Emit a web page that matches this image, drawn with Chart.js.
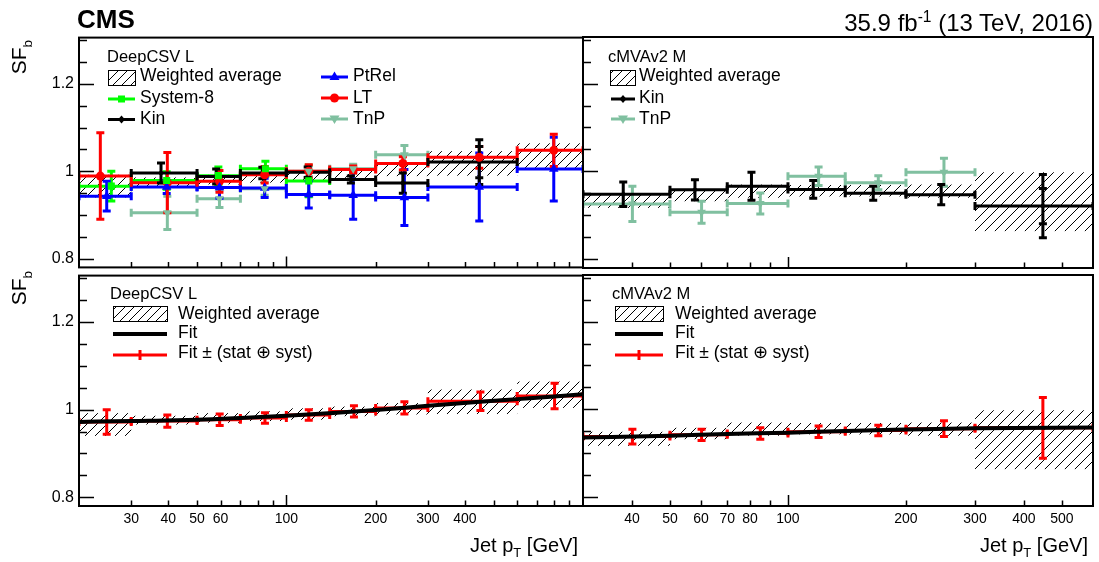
<!DOCTYPE html>
<html>
<head>
<meta charset="utf-8">
<script src="https://cdn.jsdelivr.net/npm/chart.js@4.4.1/dist/chart.umd.min.js"></script>
<style>
body { margin: 0; background: #fff; font-family: "Liberation Sans", Arial, sans-serif; }
#page { position: relative; width: 1099px; height: 562px; overflow: hidden; }
canvas { position: absolute; }
.t { position: absolute; white-space: nowrap; color: #000; line-height: 20px; font-size: 17.5px; }
.h { font-size: 16.5px; }
.rot { position: absolute; font-size: 21px; white-space: nowrap; transform: translate(-50%, -50%) rotate(-90deg); }
sub, sup { font-size: 65%; }
</style>
</head>
<body>
<div id="page">
  <canvas id="cTL" width="565" height="259" style="left:20px;top:23px"></canvas>
  <canvas id="cTR" width="514" height="235" style="left:581px;top:35px"></canvas>
  <canvas id="cBL" width="565" height="301" style="left:20px;top:261px"></canvas>
  <canvas id="cBR" width="514" height="289" style="left:581px;top:273px"></canvas>

  <svg width="1099" height="562" style="position:absolute;left:0;top:0;pointer-events:none">
    <defs>
      <pattern id="hp" width="9" height="9" patternUnits="userSpaceOnUse">
        <path d="M0,9 L9,0 M-1,1 L1,-1 M8,10 L10,8" stroke="#000" stroke-width="1"/>
      </pattern>
    </defs>
    <!-- top left legend -->
    <rect x="108.5" y="70.5" width="27" height="15" fill="url(#hp)" stroke="#000" stroke-width="1"/>
    <line x1="108" y1="99" x2="135" y2="99" stroke="#00ff00" stroke-width="3"/>
    <rect x="118" y="95.5" width="7" height="7" fill="#00ff00"/>
    <line x1="108" y1="119.5" x2="135" y2="119.5" stroke="#000" stroke-width="3"/>
    <path d="M121.5,115.5 L125,119.5 L121.5,123.5 L118,119.5 Z" fill="#000"/>
    <line x1="321" y1="77" x2="348" y2="77" stroke="#0000ff" stroke-width="3"/>
    <path d="M334.5,71.5 L339.5,80 L329.5,80 Z" fill="#0000ff"/>
    <line x1="321" y1="98" x2="348" y2="98" stroke="#ff0000" stroke-width="3"/>
    <circle cx="334.5" cy="98" r="4.5" fill="#ff0000"/>
    <line x1="321" y1="119" x2="348" y2="119" stroke="#80c0a0" stroke-width="3"/>
    <path d="M334.5,124 L339.5,115.5 L329.5,115.5 Z" fill="#80c0a0"/>
    <!-- top right legend -->
    <rect x="610.5" y="70.5" width="25" height="15" fill="url(#hp)" stroke="#000" stroke-width="1"/>
    <line x1="611" y1="99" x2="635" y2="99" stroke="#000" stroke-width="3"/>
    <path d="M623,95 L626.5,99 L623,103 L619.5,99 Z" fill="#000"/>
    <line x1="611" y1="119" x2="635" y2="119" stroke="#80c0a0" stroke-width="3"/>
    <path d="M623,124 L628,115.5 L618,115.5 Z" fill="#80c0a0"/>
    <!-- bottom left legend -->
    <rect x="113.5" y="306.5" width="54" height="15" fill="url(#hp)" stroke="#000" stroke-width="1"/>
    <line x1="113" y1="334" x2="167" y2="334" stroke="#000" stroke-width="4"/>
    <line x1="113" y1="355" x2="167" y2="355" stroke="#ff0000" stroke-width="3"/>
    <line x1="140" y1="350" x2="140" y2="360" stroke="#ff0000" stroke-width="3"/>
    <!-- bottom right legend -->
    <rect x="615.5" y="306.5" width="48" height="15" fill="url(#hp)" stroke="#000" stroke-width="1"/>
    <line x1="615" y1="334" x2="663" y2="334" stroke="#000" stroke-width="4"/>
    <line x1="615" y1="355" x2="663" y2="355" stroke="#ff0000" stroke-width="3"/>
    <line x1="639" y1="350" x2="639" y2="360" stroke="#ff0000" stroke-width="3"/>
  </svg>

  <div class="t" style="left:77px;top:6px;font-size:26px;line-height:1;font-weight:bold;">CMS</div>
  <div class="t" style="right:6px;top:9px;font-size:24px;line-height:1;">35.9 fb<sup>-1</sup> (13 TeV, 2016)</div>

  <div class="rot" style="left:21px;top:57px;">SF<sub>b</sub></div>
  <div class="rot" style="left:21px;top:288px;">SF<sub>b</sub></div>

  <div class="t" style="right:521px;top:535px;font-size:20px;">Jet p<sub>T</sub> [GeV]</div>
  <div class="t" style="right:11px;top:535px;font-size:20px;">Jet p<sub>T</sub> [GeV]</div>

  <div class="t h" style="left:107px;top:46px;">DeepCSV L</div>
  <div class="t" style="left:140px;top:65px;">Weighted average</div>
  <div class="t" style="left:140px;top:87px;">System-8</div>
  <div class="t" style="left:140px;top:108px;">Kin</div>
  <div class="t" style="left:353px;top:65px;">PtRel</div>
  <div class="t" style="left:353px;top:87px;">LT</div>
  <div class="t" style="left:353px;top:108px;">TnP</div>

  <div class="t h" style="left:608px;top:46px;">cMVAv2 M</div>
  <div class="t" style="left:639px;top:65px;">Weighted average</div>
  <div class="t" style="left:639px;top:87px;">Kin</div>
  <div class="t" style="left:639px;top:108px;">TnP</div>

  <div class="t h" style="left:110px;top:283px;">DeepCSV L</div>
  <div class="t" style="left:178px;top:303px;">Weighted average</div>
  <div class="t" style="left:178px;top:322px;">Fit</div>
  <div class="t" style="left:178px;top:342px;">Fit ± (stat ⊕ syst)</div>

  <div class="t h" style="left:612px;top:283px;">cMVAv2 M</div>
  <div class="t" style="left:675px;top:303px;">Weighted average</div>
  <div class="t" style="left:675px;top:322px;">Fit</div>
  <div class="t" style="left:675px;top:342px;">Fit ± (stat ⊕ syst)</div>
</div>

<script>
// ==== BINNING ====
const edgesDeep = [20, 30, 50, 70, 100, 140, 200, 300, 600, 1000];
const edgesCmva = [30, 50, 70, 100, 140, 200, 300, 600];

// ==== DeepCSV L : measurements ====
const deepAvg = [0.966, 0.976, 0.981, 0.985, 0.99, 0.996, 1.002, 1.018, 1.034];
const deepAvgErr = [0.026, 0.01, 0.011, 0.011, 0.013, 0.011, 0.013, 0.028, 0.03];
const deepSys8X = [25.7, 39.5, 59, 85, 119];
const deepSys8 = [0.966, 0.979, 0.99, 1.006, 0.978];
const deepSys8Err = [0.034, 0.02, 0.02, 0.017, 0.036];
const deepKinX = [37.8, 58, 83, 118, 165, 247, 447];
const deepKin = [0.996, 0.988, 0.996, 0.998, 0.981, 0.973, 1.021];
const deepKinErr = [0.023, 0.017, 0.013, 0.012, 0.008, 0.023, 0.051];
const deepKinStat = [0, 0, 0, 0, 0, 0, 0.036];
const deepPtRelX = [24.8, 39.5, 59.5, 84.5, 119, 168, 250, 447, 797];
const deepPtRel = [0.943, 0.964, 0.963, 0.962, 0.947, 0.945, 0.94, 0.964, 1.005];
const deepPtRelErr = [0.034, 0.015, 0.025, 0.022, 0.031, 0.055, 0.064, 0.078, 0.073];
const deepLTX = [23.6, 39.7, 59.5, 84.5, 119, 168, 247, 447, 797];
const deepLT = [0.989, 0.974, 0.977, 0.992, 1.0, 1.004, 1.018, 1.032, 1.048];
const deepLTErr = [0.099, 0.069, 0.025, 0.019, 0.015, 0.008, 0.015, 0.025, 0.037];
const deepTnPX = [39.7, 59.5, 84.5, 119, 168, 250];
const deepTnP = [0.905, 0.937, 0.96, 1.0, 1.006, 1.038];
const deepTnPErr = [0.038, 0.02, 0.015, 0.012, 0.01, 0.021];

// ==== DeepCSV L : fit ====
const deepFitPt = [20, 30, 50, 70, 100, 140, 200, 300, 450, 600, 800, 1000];
const deepFitSF = [0.972, 0.974, 0.977, 0.981, 0.986, 0.992, 0.999, 1.009, 1.018, 1.024, 1.030, 1.035];
const deepFitPtsX = [24.8, 39.7, 59.6, 84.7, 119, 169, 250, 451, 802];
const deepFitPts = [0.972, 0.974, 0.977, 0.981, 0.988, 0.996, 1.004, 1.019, 1.031];
const deepFitErr = [0.028, 0.014, 0.013, 0.012, 0.012, 0.013, 0.014, 0.021, 0.029];

// ==== cMVAv2 M : measurements ====
const cmvaAvg = [0.933, 0.945, 0.955, 0.956, 0.956, 0.955, 0.931];
const cmvaAvgErr = [0.016, 0.013, 0.015, 0.013, 0.013, 0.015, 0.067];
const cmvaKinX = [38, 57.9, 80.7, 116, 165, 246, 447];
const cmvaKin = [0.948, 0.958, 0.966, 0.959, 0.95, 0.947, 0.921];
const cmvaKinErr = [0.028, 0.023, 0.032, 0.02, 0.016, 0.023, 0.072];
const cmvaKinStat = [0, 0, 0, 0, 0, 0, 0.04];
const cmvaTnPX = [40.1, 60.2, 85, 119.7, 170, 250];
const cmvaTnP = [0.926, 0.907, 0.927, 0.989, 0.974, 0.998];
const cmvaTnPErr = [0.04, 0.025, 0.024, 0.021, 0.016, 0.032];

// ==== cMVAv2 M : fit ====
const cmvaFitPt = [30, 50, 70, 100, 140, 200, 300, 600];
const cmvaFitSF = [0.936, 0.940, 0.944, 0.947, 0.951, 0.954, 0.957, 0.959];
const cmvaFitPtsX = [40.1, 60.2, 85, 119.7, 170, 250, 447];
const cmvaFitPts = [0.938, 0.942, 0.945, 0.949, 0.952, 0.956, 0.958];
const cmvaFitErr = [0.017, 0.013, 0.013, 0.013, 0.012, 0.018, 0.069];

// ==== AXES ====
const yTicks = [0.8, 0.85, 0.9, 0.95, 1.0, 1.05, 1.1, 1.15, 1.2, 1.25, 1.3];
const yLabels = [0.8, 1, 1.2];
const xTicksDeep = [30, 40, 50, 60, 70, 80, 90, 100, 200, 300, 400, 500, 600, 700, 800, 900];
const xLabelsDeep = [30, 40, 50, 60, 100, 200, 300, 400];
const xTicksCmva = [40, 50, 60, 70, 80, 90, 100, 200, 300, 400, 500];
const xLabelsCmva = [40, 50, 60, 70, 80, 100, 200, 300, 400, 500];

const RED = '#ff0000', BLUE = '#0000ff', GREEN = '#00ff00', TNP = '#80c0a0', BLACK = '#000000';
const FONT = '"Liberation Sans", Arial, sans-serif';

// ===== HELPERS =====
function points(xs, ys, errs, edges, first, stat) {
    return ys.map((v, i) => ({
        x: xs[i], y: v, e: errs[i], s: stat ? stat[i] : 0,
        xl: edges[first + i], xh: edges[first + i + 1]
    }));
}

function series(xs, ys, errs, edges, first, color, style, radius, rot, stat) {
    return {
        data: points(xs, ys, errs, edges, first, stat),
        errBars: true,
        borderColor: color,
        backgroundColor: color,
        pointStyle: style,
        pointRadius: radius,
        pointRotation: rot || 0,
        pointBorderWidth: 0,
        showLine: false
    };
}

function fitLine(xs, ys) {
    return {
        type: 'line',
        data: xs.map((x, i) => ({ x: x, y: ys[i] })),
        borderColor: BLACK,
        borderWidth: 4,
        pointRadius: 0,
        showLine: true,
        fill: false,
        cubicInterpolationMode: 'monotone'
    };
}

function hatchPattern(ctx) {
    const c = document.createElement('canvas');
    c.width = 10; c.height = 10;
    const g = c.getContext('2d');
    g.strokeStyle = '#000';
    g.lineWidth = 1;
    g.beginPath();
    g.moveTo(0, 10); g.lineTo(10, 0);
    g.moveTo(-1, 1); g.lineTo(1, -1);
    g.moveTo(9, 11); g.lineTo(11, 9);
    g.stroke();
    return ctx.createPattern(c, 'repeat');
}

// ROOT-like drawing: hatched band, error bars, inner ticks, frame
function rootPlugin(o) {
    return {
        id: 'root',
        beforeDatasetsDraw(chart) {
            const { ctx, chartArea: a, scales: { x, y } } = chart;
            ctx.save();
            ctx.beginPath();
            ctx.rect(a.left, a.top, a.right - a.left, a.bottom - a.top);
            ctx.clip();

            // weighted average band
            ctx.fillStyle = hatchPattern(ctx);
            o.band.forEach((c, i) => {
                const x0 = x.getPixelForValue(o.edges[i]);
                const x1 = x.getPixelForValue(o.edges[i + 1]);
                const y0 = y.getPixelForValue(c + o.bandErr[i]);
                const y1 = y.getPixelForValue(c - o.bandErr[i]);
                ctx.fillRect(x0, y0, x1 - x0, y1 - y0);
            });

            // error bars
            ctx.lineWidth = 3;
            ctx.lineCap = 'butt';
            chart.data.datasets.forEach(ds => {
                if (!ds.errBars) return;
                ctx.strokeStyle = ds.borderColor;
                ds.data.forEach(p => {
                    const px = x.getPixelForValue(p.x), py = y.getPixelForValue(p.y);
                    const xl = x.getPixelForValue(p.xl), xh = x.getPixelForValue(p.xh);
                    const yh = y.getPixelForValue(p.y + p.e), yl = y.getPixelForValue(p.y - p.e);
                    ctx.beginPath();
                    ctx.moveTo(xl, py); ctx.lineTo(xh, py);
                    ctx.moveTo(xl, py - 4); ctx.lineTo(xl, py + 4);
                    ctx.moveTo(xh, py - 4); ctx.lineTo(xh, py + 4);
                    ctx.moveTo(px, yh); ctx.lineTo(px, yl);
                    ctx.moveTo(px - 4, yh); ctx.lineTo(px + 4, yh);
                    ctx.moveTo(px - 4, yl); ctx.lineTo(px + 4, yl);
                    if (p.s) {
                        const sh = y.getPixelForValue(p.y + p.s), sl = y.getPixelForValue(p.y - p.s);
                        ctx.moveTo(px - 4, sh); ctx.lineTo(px + 4, sh);
                        ctx.moveTo(px - 4, sl); ctx.lineTo(px + 4, sl);
                    }
                    ctx.stroke();
                });
            });
            ctx.restore();
        },
        afterDatasetsDraw(chart) {
            const { ctx, chartArea: a, scales: { x, y } } = chart;
            ctx.save();
            ctx.strokeStyle = '#000';
            ctx.lineWidth = 1.5;
            ctx.beginPath();
            yTicks.forEach(v => {
                const py = Math.round(y.getPixelForValue(v)) + 0.5;
                const len = yLabels.some(l => Math.abs(l - v) < 1e-6) ? 15 : 8;
                ctx.moveTo(a.left, py); ctx.lineTo(a.left + len, py);
            });
            o.xTicks.forEach(v => {
                const px = Math.round(x.getPixelForValue(v)) + 0.5;
                const len = v === 100 ? 11 : 5.5;
                ctx.moveTo(px, a.bottom); ctx.lineTo(px, a.bottom - len);
            });
            ctx.stroke();
            ctx.lineWidth = 2;
            ctx.strokeRect(a.left, a.top, a.right - a.left, a.bottom - a.top);
            ctx.restore();
        }
    };
}

function panel(id, o) {
    const chart = new Chart(document.getElementById(id), {
        type: 'scatter',
        data: { datasets: o.datasets },
        options: {
            responsive: false,
            animation: false,
            devicePixelRatio: 1,
            layout: { autoPadding: false, padding: o.padding },
            plugins: { legend: { display: false }, tooltip: { enabled: false } },
            scales: {
                x: {
                    type: 'logarithmic',
                    min: o.xMin, max: o.xMax,
                    display: o.showX,
                    grid: { display: false, drawTicks: false },
                    border: { display: false },
                    afterBuildTicks: s => { s.ticks = o.xLabels.map(v => ({ value: v })); },
                    afterFit: s => { if (o.showX) s.height = 56; },
                    ticks: {
                        autoSkip: false, maxRotation: 0, minRotation: 0,
                        padding: 5, color: '#000',
                        font: { family: FONT, size: 14 },
                        callback: v => String(v)
                    }
                },
                y: {
                    type: 'linear',
                    min: 0.78, max: 1.306,
                    display: o.showY,
                    grid: { display: false, drawTicks: false },
                    border: { display: false },
                    afterBuildTicks: s => { s.ticks = yLabels.map(v => ({ value: v })); },
                    afterFit: s => { if (o.showY) s.width = 59; },
                    ticks: {
                        padding: 5, color: '#000',
                        font: { family: FONT, size: 16 },
                        callback: v => String(v)
                    }
                }
            }
        },
        plugins: [rootPlugin(o)]
    });
    // pin the plot frame to the wanted place inside the canvas
    for (let k = 0; k < 3; k++) {
        const a = chart.chartArea;
        const dl = o.area.left - a.left, dt = o.area.top - a.top;
        const dr = a.right - o.area.right, db = a.bottom - o.area.bottom;
        if (!dl && !dt && !dr && !db) break;
        o.padding.left += dl; o.padding.top += dt;
        o.padding.right += dr; o.padding.bottom += db;
        chart.update();
    }
    return chart;
}

// ===== TOP LEFT: DeepCSV L measurements =====
panel('cTL', {
    xMin: 20, xMax: 1000, showX: false, showY: true,
    padding: { top: 14, right: 2, bottom: 14, left: 0 },
    area: { left: 59, top: 14, right: 563, bottom: 245 },
    edges: edgesDeep, band: deepAvg, bandErr: deepAvgErr,
    xTicks: xTicksDeep, xLabels: xLabelsDeep,
    datasets: [
        series(deepSys8X, deepSys8, deepSys8Err, edgesDeep, 0, GREEN, 'rect', 5),
        series(deepTnPX, deepTnP, deepTnPErr, edgesDeep, 1, TNP, 'triangle', 5, 180),
        series(deepPtRelX, deepPtRel, deepPtRelErr, edgesDeep, 0, BLUE, 'triangle', 5.5),
        series(deepLTX, deepLT, deepLTErr, edgesDeep, 0, RED, 'circle', 4.5),
        series(deepKinX, deepKin, deepKinErr, edgesDeep, 1, BLACK, 'rectRot', 3, 0, deepKinStat)
    ]
});

// ===== TOP RIGHT: cMVAv2 M measurements =====
panel('cTR', {
    xMin: 30, xMax: 600, showX: false, showY: false,
    padding: { top: 2, right: 2, bottom: 2, left: 2 },
    area: { left: 2, top: 2, right: 512, bottom: 233 },
    edges: edgesCmva, band: cmvaAvg, bandErr: cmvaAvgErr,
    xTicks: xTicksCmva, xLabels: xLabelsCmva,
    datasets: [
        series(cmvaTnPX, cmvaTnP, cmvaTnPErr, edgesCmva, 0, TNP, 'triangle', 5, 180),
        series(cmvaKinX, cmvaKin, cmvaKinErr, edgesCmva, 0, BLACK, 'rectRot', 3, 0, cmvaKinStat)
    ]
});

// ===== BOTTOM LEFT: DeepCSV L fit =====
panel('cBL', {
    xMin: 20, xMax: 1000, showX: true, showY: true,
    padding: { top: 14, right: 2, bottom: 0, left: 0 },
    area: { left: 59, top: 14, right: 563, bottom: 245 },
    edges: edgesDeep, band: deepAvg, bandErr: deepAvgErr,
    xTicks: xTicksDeep, xLabels: xLabelsDeep,
    datasets: [
        fitLine(deepFitPt, deepFitSF),
        series(deepFitPtsX, deepFitPts, deepFitErr, edgesDeep, 0, RED, 'circle', 0)
    ]
});

// ===== BOTTOM RIGHT: cMVAv2 M fit =====
panel('cBR', {
    xMin: 30, xMax: 600, showX: true, showY: false,
    padding: { top: 2, right: 2, bottom: 0, left: 2 },
    area: { left: 2, top: 2, right: 512, bottom: 233 },
    edges: edgesCmva, band: cmvaAvg, bandErr: cmvaAvgErr,
    xTicks: xTicksCmva, xLabels: xLabelsCmva,
    datasets: [
        fitLine(cmvaFitPt, cmvaFitSF),
        series(cmvaFitPtsX, cmvaFitPts, cmvaFitErr, edgesCmva, 0, RED, 'circle', 0)
    ]
});
</script>
</body>
</html>
